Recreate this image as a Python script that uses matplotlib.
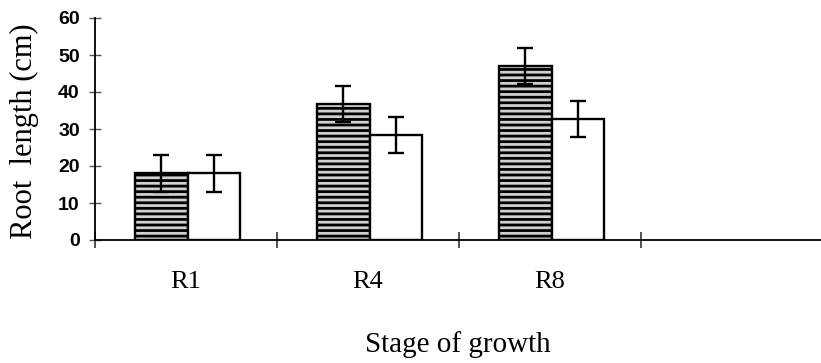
import numpy as np
import matplotlib
matplotlib.use("Agg")
import matplotlib.pyplot as plt

# data
stages = ['R1', 'R4', 'R8']
hatched_vals = [18.0, 36.8, 47.0]
hatched_err = [5.0, 4.8, 4.9]
open_vals = [18.0, 28.4, 32.7]
open_err = [5.0, 4.8, 4.8]
y_ticks = [0, 10, 20, 30, 40, 50, 60]

plt.rcParams['hatch.linewidth'] = 2.0

fig = plt.figure(figsize=(8.21, 3.63), dpi=100)
ax = fig.add_axes([95 / 821, 1 - 240 / 363, 726 / 821, 222 / 363])

x = np.arange(len(stages))
w = 0.288

# hatched bars (left of each pair) and open bars (right)
ax.bar(x + 0.365, hatched_vals, width=w, facecolor='#d0d0d0', edgecolor='black',
       linewidth=1.7, hatch='---', zorder=2)
ax.bar(x + 0.653, open_vals, width=w, facecolor='white', edgecolor='black',
       linewidth=1.7, zorder=2)
ax.errorbar(x + 0.365, hatched_vals, yerr=hatched_err, fmt='none', ecolor='black',
            elinewidth=1.7, capsize=5.5, capthick=1.7, zorder=3)
ax.errorbar(x + 0.653, open_vals, yerr=open_err, fmt='none', ecolor='black',
            elinewidth=1.7, capsize=5.5, capthick=1.7, zorder=3)

ax.set_xlim(0, 3.99)
ax.set_ylim(0, 60)

for s in ['top', 'right']:
    ax.spines[s].set_visible(False)
ax.spines['left'].set_linewidth(1.3)
ax.spines['bottom'].set_linewidth(1.3)

# y ticks
ax.set_yticks(y_ticks)
ax.tick_params(axis='y', direction='inout', length=8, width=1, color='#555555', pad=7)
for lab in ax.get_yticklabels():
    lab.set_family('Liberation Sans')
    lab.set_fontsize(14)
    lab.set_fontweight('bold')

# category boundaries as major ticks, names as minor ticks
ax.set_xticks([0, 1, 2, 3])
ax.set_xticklabels([])
ax.tick_params(axis='x', which='major', direction='inout', length=12, width=1.2, color='#333333')
ax.set_xticks(x + 0.5, minor=True)
ax.set_xticklabels(stages, minor=True, family='Liberation Serif', fontsize=19)
ax.tick_params(axis='x', which='minor', length=0, pad=22)

fig.text(24 / 821, 1 - 131 / 363, 'Root  length (cm)', rotation=90, ha='center', va='center',
         family='Liberation Serif', fontsize=22)
fig.text(458 / 821, 1 - 352 / 363, 'Stage of growth', ha='center', va='baseline',
         family='Liberation Serif', fontsize=21)

fig.savefig('out.png', dpi=100)
